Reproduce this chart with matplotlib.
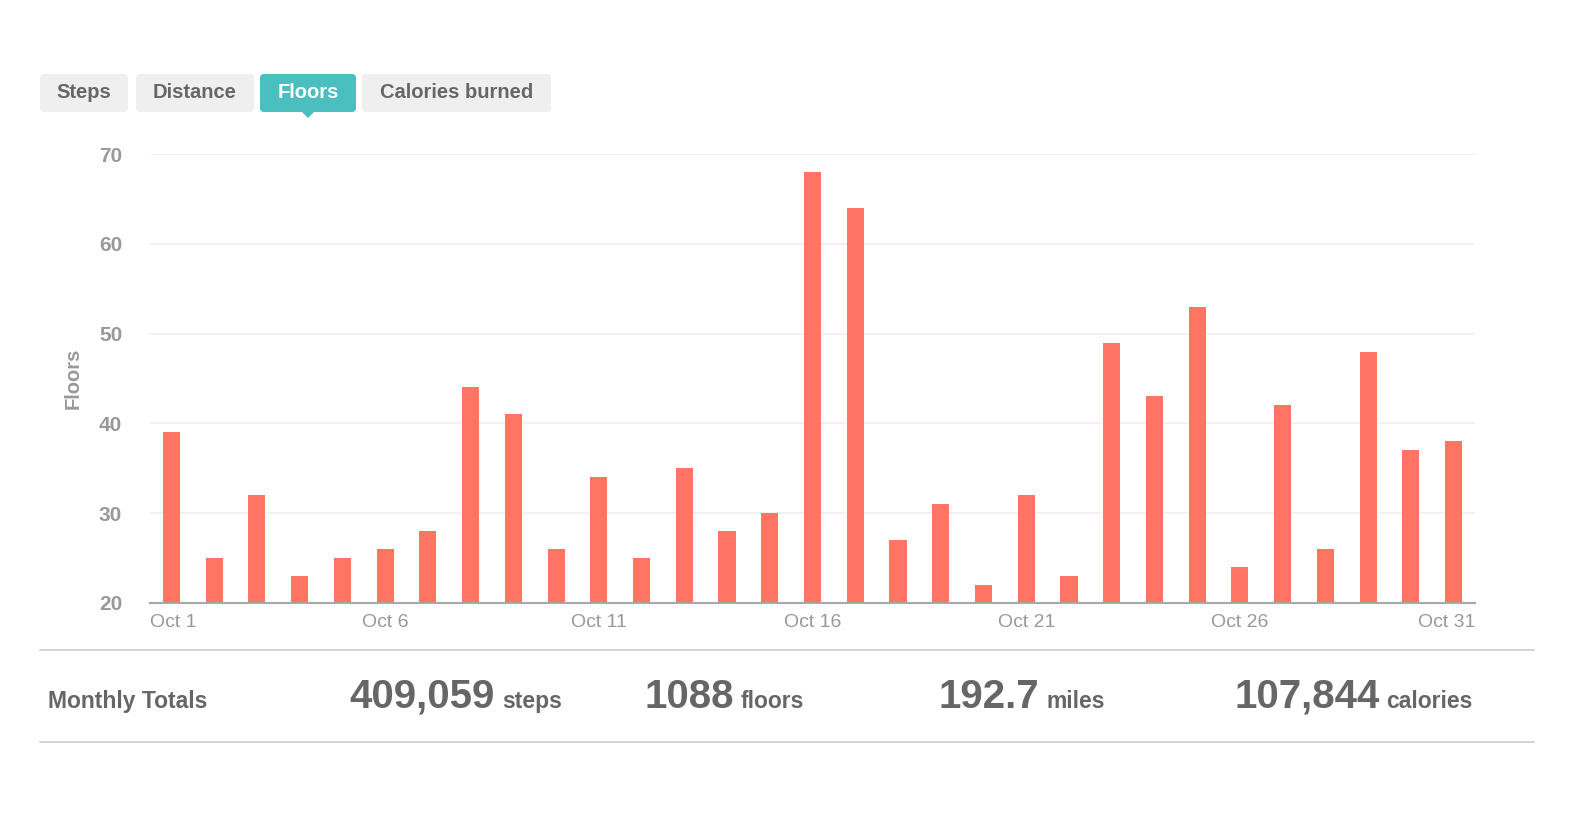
import numpy as np
import matplotlib
matplotlib.use('Agg')
import matplotlib.pyplot as plt
from matplotlib.patches import FancyBboxPatch, Polygon

plt.rcParams['font.family'] = ['Liberation Sans', 'DejaVu Sans']

# data
days = ['Oct %d' % d for d in range(1, 32)]
floors = [39, 25, 32, 23, 25, 26, 28, 44, 41, 26,
          34, 25, 35, 28, 30, 68, 64, 27, 31, 22,
          32, 23, 49, 43, 53, 24, 42, 26, 48, 37, 38]
tabs = ['Steps', 'Distance', 'Floors', 'Calories burned']
active_tab = 'Floors'
total_vals = ['409,059', '1088', '192.7', '107,844']
total_units = ['steps', 'floors', 'miles', 'calories']

W, H = 1576, 814
fig = plt.figure(figsize=(W / 100, H / 100), dpi=100)
fig.patch.set_facecolor('white')

# overlay in pixel coords for tabs / totals
ov = fig.add_axes([0, 0, 1, 1])
ov.set_xlim(0, W)
ov.set_ylim(H, 0)
ov.axis('off')

tab_x = [(40, 128), (136, 254), (260, 356), (362, 551)]
for name, (x0, x1) in zip(tabs, tab_x):
    on = name == active_tab
    ov.add_patch(FancyBboxPatch((x0, 74), x1 - x0, 38,
                                boxstyle='round,pad=0,rounding_size=4',
                                fc='#4bbfbf' if on else '#efefef', ec='none'))
    ov.text((x0 + x1) / 2, 92, name, ha='center', va='center',
            fontsize=14.5, fontweight='bold', color='white' if on else '#666666')
    if on:
        cx = (x0 + x1) / 2
        ov.add_patch(Polygon([(cx - 7, 111), (cx + 7, 111), (cx, 118)],
                             closed=True, fc='#4bbfbf', ec='none'))

# totals row
ov.plot([40, 1534], [650, 650], color='#cccccc', lw=1.2)
ov.plot([40, 1534], [742, 742], color='#cccccc', lw=1.2)
ov.text(48, 708, 'Monthly Totals', ha='left', va='baseline',
        fontsize=16.5, fontweight='bold', color='#666666')

unit_end = [562, 804, 1105, 1473]
fig.canvas.draw()
r = fig.canvas.get_renderer()
for v, u, xe in zip(total_vals, total_units, unit_end):
    t = ov.text(xe, 708, u, ha='right', va='baseline', fontsize=16.5,
                fontweight='bold', color='#666666')
    bb = t.get_window_extent(r)
    ov.text(xe - bb.width - 7, 708, v, ha='right', va='baseline',
            fontsize=29, fontweight='bold', color='#666666')

# bar chart
ax = fig.add_axes([150 / W, 1 - 603 / H, (1475 - 150) / W, (603 - 154) / H])
x = np.arange(len(days))
ax.bar(x, floors, width=0.4, color='#ff7463', zorder=3)
ax.set_xlim(-0.5, len(days) - 0.5)
ax.set_ylim(20, 70)
ax.set_yticks(range(20, 71, 10))
ax.grid(axis='y', color='#efefef', lw=1.2, zorder=0)
for s in ['top', 'right', 'left']:
    ax.spines[s].set_visible(False)
ax.spines['bottom'].set_color('#a8a8a8')
ax.spines['bottom'].set_linewidth(1.5)
ax.spines['bottom'].set_zorder(4)

tick_pos = [-0.5, 5, 10, 15, 20, 25, len(days) - 0.5]
tick_lab = [days[i] for i in range(0, 31, 5)]
ax.set_xticks(tick_pos)
ax.set_xticklabels(tick_lab)
ax.tick_params(axis='x', length=0, pad=8, labelsize=14, labelcolor='#999999')
ax.tick_params(axis='y', length=0, pad=20, labelsize=15, labelcolor='#999999')
labs = ax.get_xticklabels()
labs[0].set_ha('left')
labs[-1].set_ha('right')
for lab in ax.get_yticklabels():
    lab.set_fontweight('bold')
    lab.set_va('center_baseline')
ax.set_ylabel('Floors', fontsize=14.5, fontweight='bold', color='#999999', labelpad=12)
ax.set_facecolor('none')

fig.savefig('out.png', dpi=100, facecolor='white')
